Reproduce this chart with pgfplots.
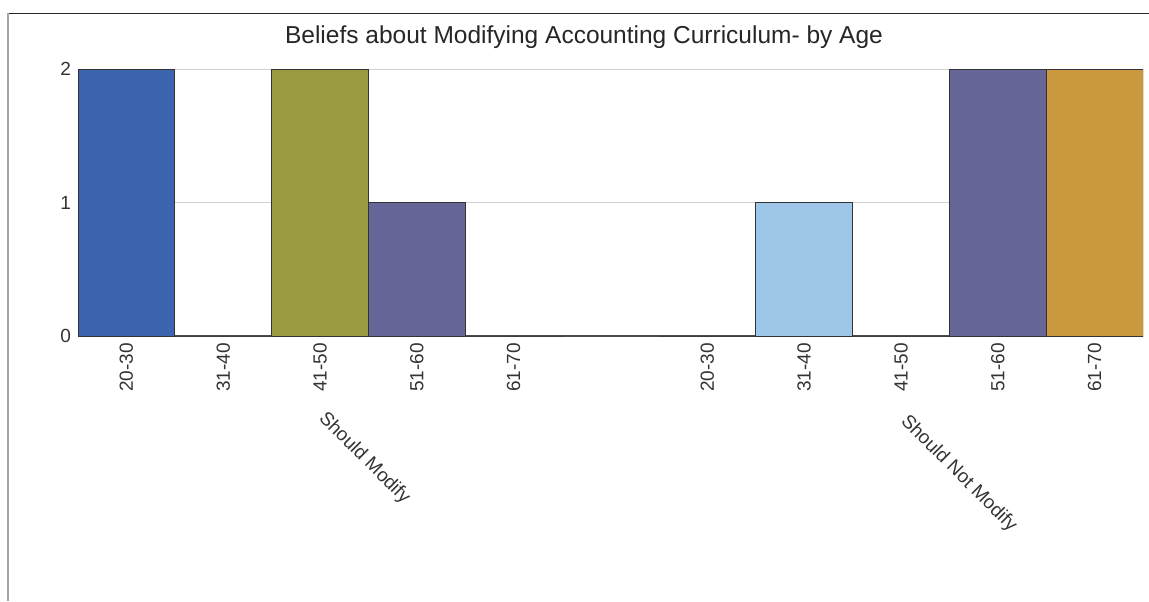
\documentclass[border=0pt]{standalone}
\usepackage{fontspec}
\setmainfont{Liberation Sans}
\usepackage{pgfplots}
\pgfplotsset{compat=1.18}
\definecolor{cA}{HTML}{3C64AF}
\definecolor{cB}{HTML}{9EC6E8}
\definecolor{cC}{HTML}{9A9A40}
\definecolor{cD}{HTML}{666699}
\definecolor{cE}{HTML}{C9983F}
\definecolor{txt}{HTML}{333333}
\begin{document}
\begin{tikzpicture}
\path[use as bounding box] (0,0) rectangle (574.5pt,300.5pt);
\draw[color=black!85, line width=0.6pt] (4pt,293.75pt) -- (574.5pt,293.75pt);
\draw[color=black!35, line width=0.6pt] (4pt,0) -- (4pt,293.75pt);
\node[anchor=base, font=\fontsize{12.25}{14}\selectfont, text=black!85] at (292pt,278.75pt) {Beliefs about Modifying Accounting Curriculum- by Age};
\begin{axis}[
  at={(39pt,132.5pt)}, anchor=south west, scale only axis,
  width=532.5pt, height=133.5pt,
  xmin=-0.5, xmax=10.5, ymin=0, ymax=2,
  ybar, bar width=48.409pt, bar shift=0pt,
  axis x line=bottom, axis y line=left,
  x axis line style={draw=black!70, line width=0.8pt, -},
  y axis line style={draw=none, -},
  xtick={0,1,2,3,4,6,7,8,9,10},
  xticklabels={20-30,31-40,41-50,51-60,61-70,20-30,31-40,41-50,51-60,61-70},
  x tick label style={rotate=90, anchor=east, font=\fontsize{9.5}{11}\selectfont, text=txt},
  y tick label style={font=\fontsize{9.5}{11}\selectfont, text=txt},
  ytick={0,1,2},
  ymajorgrids, grid style={draw=black!18, line width=0.5pt},
  major tick length=0pt,
  /pgf/number format/assume math mode=true,
]
\addplot[fill=cA, draw=black!80, line width=0.5pt] coordinates {(0,2) (6,0)};
\addplot[fill=cB, draw=black!80, line width=0.5pt] coordinates {(1,0) (7,1)};
\addplot[fill=cC, draw=black!80, line width=0.5pt] coordinates {(2,2) (8,0)};
\addplot[fill=cD, draw=black!80, line width=0.5pt] coordinates {(3,1) (9,2)};
\addplot[fill=cE, draw=black!80, line width=0.5pt] coordinates {(4,0) (10,2)};
\end{axis}
\node[anchor=north west, inner sep=0pt, rotate=-45, font=\fontsize{9.5}{11}\selectfont, text=txt] at (164pt,96pt) {Should Modify};
\node[anchor=north west, inner sep=0pt, rotate=-45, font=\fontsize{9.5}{11}\selectfont, text=txt] at (455pt,94.5pt) {Should Not Modify};
\end{tikzpicture}
\end{document}
